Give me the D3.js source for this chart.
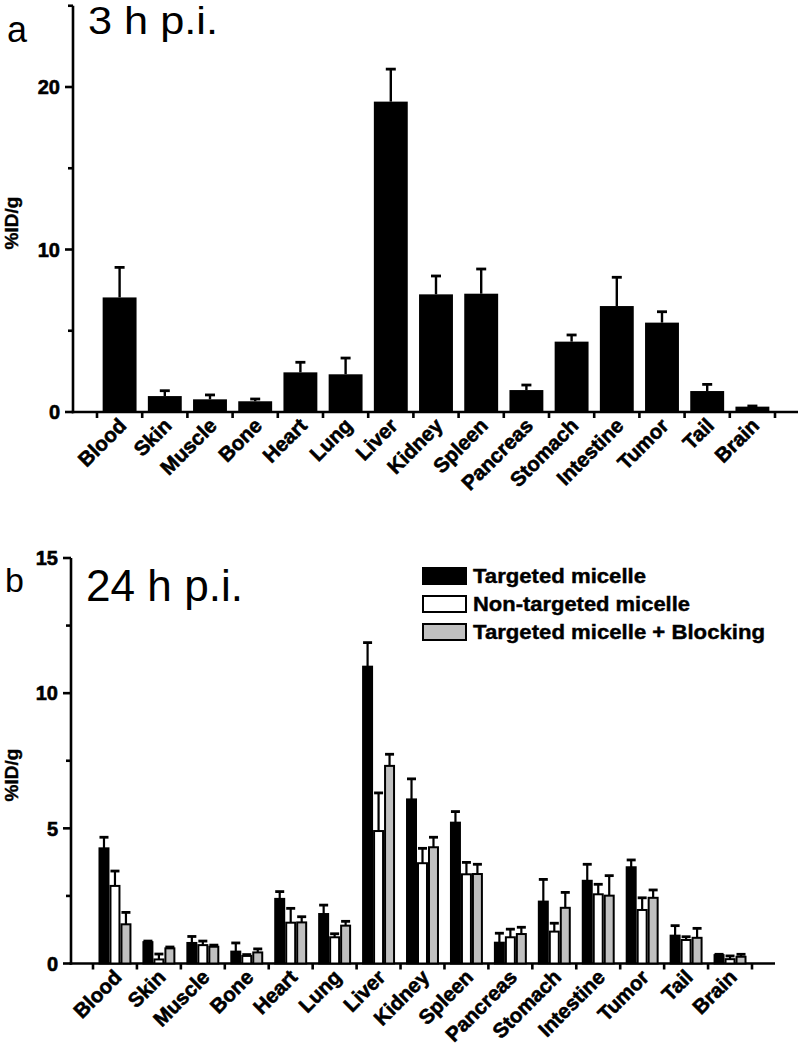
<!DOCTYPE html>
<html><head><meta charset="utf-8">
<script src="https://cdn.jsdelivr.net/npm/d3@7"></script>
<style>body{margin:0;background:#fff}svg{display:block}text{font-family:"Liberation Sans",Arial,sans-serif}</style>
</head><body><svg id="c" width="800" height="1045"></svg>
<script>
const categories = ["Blood","Skin","Muscle","Bone","Heart","Lung","Liver","Kidney","Spleen","Pancreas","Stomach","Intestine","Tumor","Tail","Brain"];
// panel a: 3 h p.i.
const h3Mean = [7.05, 0.98, 0.78, 0.66, 2.44, 2.32, 19.1, 7.24, 7.28, 1.35, 4.33, 6.52, 5.5, 1.29, 0.33];
const h3Err  = [1.85, 0.33, 0.27, 0.14, 0.62, 1.0, 2.0, 1.13, 1.52, 0.31, 0.41, 1.77, 0.67, 0.41, 0.04];
// panel b: 24 h p.i.
const seriesNames = ["Targeted micelle", "Non-targeted micelle", "Targeted micelle + Blocking"];
const targeted       = [4.26, 0.79, 0.76, 0.44, 2.39, 1.83, 10.98, 6.07, 5.21, 0.77, 2.29, 3.06, 3.56, 1.03, 0.31];
const targetedErr    = [0.41, 0.04, 0.24, 0.32, 0.27, 0.33, 0.89, 0.76, 0.41, 0.35, 0.82, 0.61, 0.27, 0.37, 0.03];
const nonTargeted    = [2.87, 0.15, 0.68, 0.28, 1.51, 0.97, 4.9, 3.71, 3.3, 0.97, 1.18, 2.56, 1.98, 0.87, 0.16];
const nonTargetedErr = [0.55, 0.2, 0.15, 0.05, 0.53, 0.13, 1.41, 0.55, 0.44, 0.3, 0.31, 0.37, 0.45, 0.12, 0.12];
const blocking       = [1.45, 0.56, 0.62, 0.41, 1.52, 1.4, 7.31, 4.3, 3.31, 1.09, 2.06, 2.51, 2.43, 0.95, 0.25];
const blockingErr    = [0.44, 0.05, 0.06, 0.13, 0.21, 0.16, 0.43, 0.37, 0.36, 0.25, 0.57, 0.74, 0.29, 0.35, 0.09];
const majorA = [0, 10, 20], minorA = [5, 15, 25];
const majorB = [0, 5, 10, 15], minorB = [2.5, 7.5, 12.5];
const fills = ["#000000", "#ffffff", "#c0c0c0"];

const svg = d3.select("#c");
const SW = 2.6;

function panel(cfg) {
  const g = svg.append("g");
  const y = d3.scaleLinear().domain(cfg.yDomain).range([cfg.y0, cfg.y1]);
  const x = d3.scaleBand().domain(categories).range([cfg.xb0, cfg.xb1]).padding(0);
  // y axis
  g.append("line").attr("x1", cfg.ax).attr("x2", cfg.ax).attr("y1", y(cfg.yDomain[0]) + SW/2).attr("y2", y(cfg.yDomain[1]))
    .attr("stroke", "#000").attr("stroke-width", SW);
  g.selectAll(".maj").data(cfg.major).join("line").attr("class","maj").attr("x1", cfg.ax - 8).attr("x2", cfg.ax).attr("y1", d => y(d)).attr("y2", d => y(d))
    .attr("stroke", "#000").attr("stroke-width", SW);
  g.selectAll(".min").data(cfg.minor).join("line").attr("class","min").attr("x1", cfg.ax - 5).attr("x2", cfg.ax).attr("y1", d => y(d)).attr("y2", d => y(d))
    .attr("stroke", "#000").attr("stroke-width", SW);
  g.selectAll(".tl").data(cfg.major).join("text").attr("class","tl").attr("x", cfg.ax - 13).attr("y", d => y(d)).attr("dy", "0.36em")
    .attr("text-anchor", "end").attr("font-weight", "bold").attr("font-size", 20)
    .attr("stroke", "#000").attr("stroke-width", 0.6).text(d => d);
  // x axis
  g.append("line").attr("x1", cfg.ax - SW/2).attr("x2", cfg.axEnd).attr("y1", y(0)).attr("y2", y(0)).attr("stroke", "#000").attr("stroke-width", SW);
  const bounds = categories.map(c => x(c)).concat([x(categories[categories.length-1]) + x.bandwidth()]);
  g.selectAll(".xt").data(bounds).join("line").attr("class","xt").attr("x1", d => d).attr("x2", d => d).attr("y1", y(0)).attr("y2", y(0) + 6)
    .attr("stroke", "#000").attr("stroke-width", SW);
  g.selectAll(".xl").data(categories).join("text").attr("class","xl")
    .attr("transform", d => `translate(${x(d) + x.bandwidth()/2 + 8},${y(0) + 15}) rotate(-45)`)
    .attr("text-anchor", "end").attr("font-weight", "bold").attr("font-size", 20.5)
    .attr("stroke", "#000").attr("stroke-width", 0.6).text(d => d);
  // y label
  g.append("text").attr("transform", `translate(${cfg.ylx},${cfg.yly}) rotate(-90)`).attr("text-anchor", "middle")
    .attr("font-weight", "bold").attr("font-size", 19).attr("stroke", "#000").attr("stroke-width", 0.4).text("%ID/g");
  return {g, x, y};
}

// ---- Panel a
{
  const {g, x, y} = panel({yDomain: [0, 25], y0: 412, y1: 5.75, xb0: 97, xb1: 775, ax: 73, axEnd: 798, major: majorA, minor: minorA, ylx: 18, yly: 223});
  const bw = x.bandwidth() * 0.75, off = (x.bandwidth() - bw) / 2;
  g.selectAll(".bar").data(categories).join("rect").attr("class","bar").attr("x", (d) => x(d) + off).attr("width", bw)
    .attr("y", (d, i) => y(h3Mean[i])).attr("height", (d, i) => y(0) - y(h3Mean[i])).attr("fill", "#000");
  g.selectAll(".ev").data(categories).join("line").attr("class","ev").attr("x1", d => x(d) + x.bandwidth()/2).attr("x2", d => x(d) + x.bandwidth()/2)
    .attr("y1", (d, i) => y(h3Mean[i])).attr("y2", (d, i) => y(h3Mean[i] + h3Err[i])).attr("stroke", "#000").attr("stroke-width", 2.4);
  g.selectAll(".ec").data(categories).join("line").attr("class","ec").attr("x1", d => x(d) + x.bandwidth()/2 - 5).attr("x2", d => x(d) + x.bandwidth()/2 + 5)
    .attr("y1", (d, i) => y(h3Mean[i] + h3Err[i])).attr("y2", (d, i) => y(h3Mean[i] + h3Err[i])).attr("stroke", "#000").attr("stroke-width", 2.8);
  svg.append("text").attr("x", 7).attr("y", 42).attr("font-family", "'Liberation Serif','DejaVu Serif',serif").attr("font-size", 36).text("a");
  svg.append("text").attr("x", 88).attr("y", 34).attr("font-size", 39).attr("textLength", 130).attr("lengthAdjust", "spacingAndGlyphs").text("3 h p.i.");
}

// ---- Panel b
{
  const {g, x, y} = panel({yDomain: [0, 15], y0: 963.5, y1: 558, xb0: 93, xb1: 752, ax: 71, axEnd: 775, major: majorB, minor: minorB, ylx: 18, yly: 775});
  const series = [[targeted, targetedErr], [nonTargeted, nonTargetedErr], [blocking, blockingErr]];
  const gw = x.bandwidth() * 0.75, goff = (x.bandwidth() - gw) / 2;
  const xs = d3.scaleBand().domain([0, 1, 2]).range([0, gw]).padding(0);
  series.forEach(([vals, errs], s) => {
    g.append("g").selectAll("rect").data(categories).join("rect")
      .attr("x", d => x(d) + goff + xs(s) + 1).attr("width", xs.bandwidth() - 2)
      .attr("y", (d, i) => y(vals[i])).attr("height", (d, i) => y(0) - y(vals[i]))
      .attr("fill", fills[s]).attr("stroke", "#000").attr("stroke-width", 2);
  });
  series.forEach(([vals, errs], s) => {
    const cx = d => x(d) + goff + xs(s) + xs.bandwidth()/2;
    const eg = g.append("g");
    eg.selectAll(".v").data(categories).join("line").attr("class","v").attr("x1", cx).attr("x2", cx)
      .attr("y1", (d, i) => y(vals[i])).attr("y2", (d, i) => y(vals[i] + errs[i])).attr("stroke", "#000").attr("stroke-width", 2.2);
    eg.selectAll(".c").data(categories).join("line").attr("class","c").attr("x1", d => cx(d) - 4.5).attr("x2", d => cx(d) + 4.5)
      .attr("y1", (d, i) => y(vals[i] + errs[i])).attr("y2", (d, i) => y(vals[i] + errs[i])).attr("stroke", "#000").attr("stroke-width", 2.8);
  });
  svg.append("text").attr("x", 5).attr("y", 592).attr("font-family", "'Liberation Serif','DejaVu Serif',serif").attr("font-size", 34).text("b");
  svg.append("text").attr("x", 86).attr("y", 601).attr("font-size", 44).attr("textLength", 157).attr("lengthAdjust", "spacingAndGlyphs").text("24 h p.i.");
  // legend
  const legY = [568, 596, 624], legW = [173, 217, 292];
  const lg = svg.append("g");
  lg.selectAll("rect").data(seriesNames).join("rect").attr("x", 423).attr("y", (d, i) => legY[i]).attr("width", 43).attr("height", 16)
    .attr("fill", (d, i) => fills[i]).attr("stroke", "#000").attr("stroke-width", 2);
  lg.selectAll("text").data(seriesNames).join("text").attr("x", 473).attr("y", (d, i) => legY[i] + 14.5)
    .attr("font-weight", "bold").attr("font-size", 19.5).attr("stroke", "#000").attr("stroke-width", 0.4)
    .attr("textLength", (d, i) => legW[i]).attr("lengthAdjust", "spacingAndGlyphs").text(d => d);
}
</script></body></html>
